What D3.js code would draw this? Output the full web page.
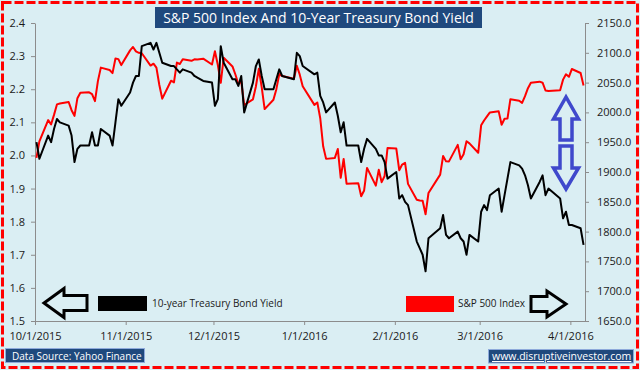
<!DOCTYPE html>
<html>
<head>
<meta charset="utf-8">
<script src="https://cdn.jsdelivr.net/npm/d3@7"></script>
<style>
    body { margin: 0; background: #fff; }
    svg { display: block; font-family: "Open Sans", sans-serif; }
    .axis path, .axis line { stroke: #8c8c8c; }
    .axis text { fill: #1a1a1a; font-size: 11px; font-family: "Open Sans", sans-serif; }
</style>
</head>
<body>
<div id="chart"></div>
<script>
// trading days, 10/1/2015 - 4/5/2016
const tradingDays = {
    "2015-10": [1, 2, 5, 6, 7, 8, 9, 12, 13, 14, 15, 16, 19, 20, 21, 22, 23, 26, 27, 28, 29, 30],
    "2015-11": [2, 3, 4, 5, 6, 9, 10, 11, 12, 13, 16, 17, 18, 19, 20, 23, 24, 25, 27, 30],
    "2015-12": [1, 2, 3, 4, 7, 8, 9, 10, 11, 14, 15, 16, 17, 18, 21, 22, 23, 24, 28, 29, 30, 31],
    "2016-01": [4, 5, 6, 7, 8, 11, 12, 13, 14, 15, 19, 20, 21, 22, 25, 26, 27, 28, 29],
    "2016-02": [1, 2, 3, 4, 5, 8, 9, 10, 11, 12, 16, 17, 18, 19, 22, 23, 24, 25, 26, 29],
    "2016-03": [1, 2, 3, 4, 7, 8, 9, 10, 11, 14, 15, 16, 17, 18, 21, 22, 23, 24, 28, 29, 30, 31],
    "2016-04": [1, 4, 5]
};

// S&P 500 close (right axis)
const spx = [
    1923.82, 1951.36, 1987.05, 1979.92, 1995.83, 2013.43, 2014.89, 2017.46, 2003.69, 1994.24, 2023.86,
    2033.11, 2033.66, 2030.77, 2018.94, 2052.51, 2075.15, 2071.18, 2065.89, 2090.35, 2089.41, 2079.36,
    2104.05, 2109.79, 2102.31, 2099.93, 2099.20, 2078.58, 2081.72, 2075.00, 2045.97, 2023.04,
    2053.19, 2050.44, 2083.58, 2081.24, 2089.17, 2086.59, 2089.14, 2088.87, 2090.11, 2080.41,
    2102.63, 2079.51, 2049.62, 2091.69, 2077.07, 2063.59, 2047.62, 2052.23, 2012.37, 2021.94, 2043.41,
    2073.07, 2041.89, 2005.55, 2021.15, 2038.97, 2064.29, 2060.99, 2056.50, 2078.36, 2063.36, 2043.94,
    2012.66, 2016.71, 1990.26, 1943.09, 1922.03, 1923.67, 1938.68, 1890.28, 1921.84, 1880.33,
    1881.33, 1859.33, 1868.99, 1906.90, 1877.08, 1903.63, 1882.95, 1893.36, 1940.24,
    1939.38, 1903.03, 1912.53, 1915.45, 1880.05, 1853.44, 1852.21, 1851.86, 1829.08, 1864.78,
    1895.58, 1926.82, 1917.83, 1917.78, 1945.50, 1921.27, 1929.80, 1951.70, 1948.05, 1932.23,
    1978.35, 1986.45, 1993.40, 1999.99, 2001.76, 1979.26, 1989.26, 1989.57, 2022.19, 2019.64, 2015.93,
    2027.22, 2040.59, 2049.58, 2051.60, 2049.80, 2036.71, 2035.94, 2037.05, 2055.01, 2063.95, 2059.74,
    2072.78, 2066.13, 2045.17
];

// 10-year treasury yield (left axis)
const tnx = [
    2.04, 1.99, 2.06, 2.04, 2.08, 2.11, 2.10, 2.09, 2.06, 1.98, 2.02,
    2.03, 2.03, 2.07, 2.03, 2.03, 2.08, 2.06, 2.03, 2.10, 2.17, 2.15,
    2.19, 2.22, 2.24, 2.24, 2.33, 2.34, 2.32, 2.34, 2.31, 2.28,
    2.27, 2.27, 2.26, 2.25, 2.26, 2.25, 2.24, 2.235, 2.225, 2.22,
    2.15, 2.17, 2.33, 2.28, 2.23, 2.23, 2.21, 2.24, 2.13, 2.22, 2.27,
    2.29, 2.24, 2.20, 2.20, 2.23, 2.26, 2.24, 2.23, 2.31, 2.30, 2.27,
    2.245, 2.25, 2.18, 2.16, 2.13, 2.16, 2.12, 2.07, 2.10, 2.03,
    2.03, 1.98, 2.02, 2.05, 2.02, 2.00, 2.00, 1.98, 1.93,
    1.95, 1.87, 1.88, 1.86, 1.85, 1.74, 1.72, 1.70, 1.65, 1.75,
    1.78, 1.82, 1.76, 1.75, 1.77, 1.75, 1.74, 1.70, 1.76, 1.74,
    1.83, 1.85, 1.835, 1.88, 1.90, 1.83, 1.88, 1.93, 1.98, 1.97, 1.96,
    1.94, 1.91, 1.87, 1.92, 1.94, 1.88, 1.90, 1.87, 1.81, 1.83, 1.79,
    1.79, 1.78, 1.73
];

const leftTicks = [1.5, 1.6, 1.7, 1.8, 1.9, 2.0, 2.1, 2.2, 2.3, 2.4];
const rightTicks = [1650, 1700, 1750, 1800, 1850, 1900, 1950, 2000, 2050, 2100, 2150];
const monthTicks = ["2015-10-01", "2015-11-01", "2015-12-01", "2016-01-01", "2016-02-01", "2016-03-01", "2016-04-01"];
const xDomain = ["2015-10-01", "2016-04-06"];

const title = "S&P 500 Index And 10-Year Treasury Bond Yield";
const tnxLabel = "10-year Treasury Bond Yield";
const spxLabel = "S&P 500 Index";
const sourceText = "Data Source: Yahoo Finance";
const siteText = "www.disruptiveinvestor.com";

const width = 640,
    height = 370,
    margin = {top: 23, right: 55, bottom: 49, left: 35},
    bg = "#DAEEF3",
    navy = "#1F497D";

const parse = d3.utcParse("%Y-%m-%d");
const dates = [];
Object.keys(tradingDays).forEach((m) => {
    tradingDays[m].forEach((d) => dates.push(parse(m + "-" + String(d).padStart(2, "0"))));
});
const data = dates.map((d, i) => ({date: d, spx: spx[i], tnx: tnx[i]}));

const xScale = d3.scaleUtc()
    .domain(xDomain.map(parse))
    .range([margin.left, width - margin.right]);
const yLeft = d3.scaleLinear()
    .domain([1.5, 2.4])
    .range([height - margin.bottom, margin.top]);
const yRight = d3.scaleLinear()
    .domain([1650, 2150])
    .range([height - margin.bottom, margin.top]);

// points sit in the middle of their day
const xPos = (d) => xScale(d3.utcHour.offset(d.date, 12));

const svg = d3.select("#chart")
    .append("svg")
    .attr("width", width)
    .attr("height", height);

svg.append("rect")
    .attr("width", width)
    .attr("height", height)
    .attr("fill", bg);

svg.append("rect")
    .attr("x", 2.5)
    .attr("y", 2.5)
    .attr("width", width - 5)
    .attr("height", height - 5)
    .attr("fill", "none")
    .attr("stroke", "#ff0000")
    .attr("stroke-width", 3)
    .attr("stroke-dasharray", "9,3");

// axes
svg.append("g")
    .attr("class", "axis")
    .attr("transform", `translate(0,${height - margin.bottom})`)
    .call(d3.axisBottom(xScale)
        .tickValues(monthTicks.map(parse))
        .tickFormat(d3.utcFormat("%-m/%-d/%Y"))
        .tickSize(4)
        .tickSizeOuter(0)
        .tickPadding(7));

svg.append("g")
    .attr("class", "axis")
    .attr("transform", `translate(${margin.left},0)`)
    .call(d3.axisLeft(yLeft)
        .tickValues(leftTicks)
        .tickFormat(d3.format(".1f"))
        .tickSize(4)
        .tickSizeOuter(0)
        .tickPadding(6));

svg.append("g")
    .attr("class", "axis")
    .attr("transform", `translate(${width - margin.right},0)`)
    .call(d3.axisRight(yRight)
        .tickValues(rightTicks)
        .tickFormat(d3.format(".1f"))
        .tickSize(4)
        .tickSizeOuter(0)
        .tickPadding(8));

// lines
const spxLine = d3.line()
    .x(xPos)
    .y((d) => yRight(d.spx));
const tnxLine = d3.line()
    .x(xPos)
    .y((d) => yLeft(d.tnx));

svg.append("path")
    .datum(data)
    .attr("d", spxLine)
    .attr("fill", "none")
    .attr("stroke", "#ff0000")
    .attr("stroke-width", 2)
    .attr("stroke-linejoin", "round");

svg.append("path")
    .datum(data)
    .attr("d", tnxLine)
    .attr("fill", "none")
    .attr("stroke", "#000")
    .attr("stroke-width", 2)
    .attr("stroke-linejoin", "round");

// title
svg.append("rect")
    .attr("x", 155)
    .attr("y", 7)
    .attr("width", 327)
    .attr("height", 21)
    .attr("fill", navy);
svg.append("text")
    .attr("x", 318.5)
    .attr("y", 22.5)
    .attr("text-anchor", "middle")
    .attr("fill", "#fff")
    .style("font-size", "14px")
    .text(title);

// legend
svg.append("rect").attr("x", 98).attr("y", 296).attr("width", 49).attr("height", 15).attr("fill", "#000");
svg.append("text").attr("x", 152).attr("y", 307).style("font-size", "10px").attr("fill", "#1a1a1a").text(tnxLabel);
svg.append("rect").attr("x", 406).attr("y", 296).attr("width", 48).attr("height", 16).attr("fill", "#ff0000");
svg.append("text").attr("x", 458).attr("y", 307).style("font-size", "10px").attr("fill", "#1a1a1a").text(spxLabel);

// arrows: tip at (0,0) pointing right, then placed and rotated
function arrow(tip, angle, len, shaft, head, headLen, color, sw) {
    const pts = [[0, 0], [-headLen, -head / 2], [-headLen, -shaft / 2], [-len, -shaft / 2],
        [-len, shaft / 2], [-headLen, shaft / 2], [-headLen, head / 2]];
    svg.append("path")
        .attr("d", d3.line()(pts) + "Z")
        .attr("transform", `translate(${tip[0]},${tip[1]}) rotate(${angle})`)
        .attr("fill", "none")
        .attr("stroke", color)
        .attr("stroke-width", sw)
        .attr("stroke-linejoin", "miter");
}
arrow([44, 303], 180, 43, 15, 29, 20, "#000", 3);
arrow([566, 304], 0, 35, 15, 26, 19, "#000", 3);
arrow([566, 97], -90, 43, 12, 25, 22, "#3F48CC", 3.5);
arrow([566, 189], 90, 43, 12, 25, 21, "#3F48CC", 3.5);

// footer boxes
svg.append("rect")
    .attr("x", 5.5).attr("y", 348.5).attr("width", 139).attr("height", 14)
    .attr("fill", navy).attr("stroke", "#8EAADB").attr("stroke-width", 1);
svg.append("text")
    .attr("x", 12).attr("y", 359.5)
    .attr("fill", "#fff").style("font-size", "10px")
    .text(sourceText);

svg.append("rect")
    .attr("x", 488.5).attr("y", 349.5).attr("width", 145).attr("height", 13.5)
    .attr("fill", navy).attr("stroke", "#8EAADB").attr("stroke-width", 1);
svg.append("text")
    .attr("x", 492).attr("y", 360)
    .attr("fill", "#fff").style("font-size", "10.5px")
    .style("text-decoration", "underline")
    .text(siteText);
</script>
</body>
</html>
